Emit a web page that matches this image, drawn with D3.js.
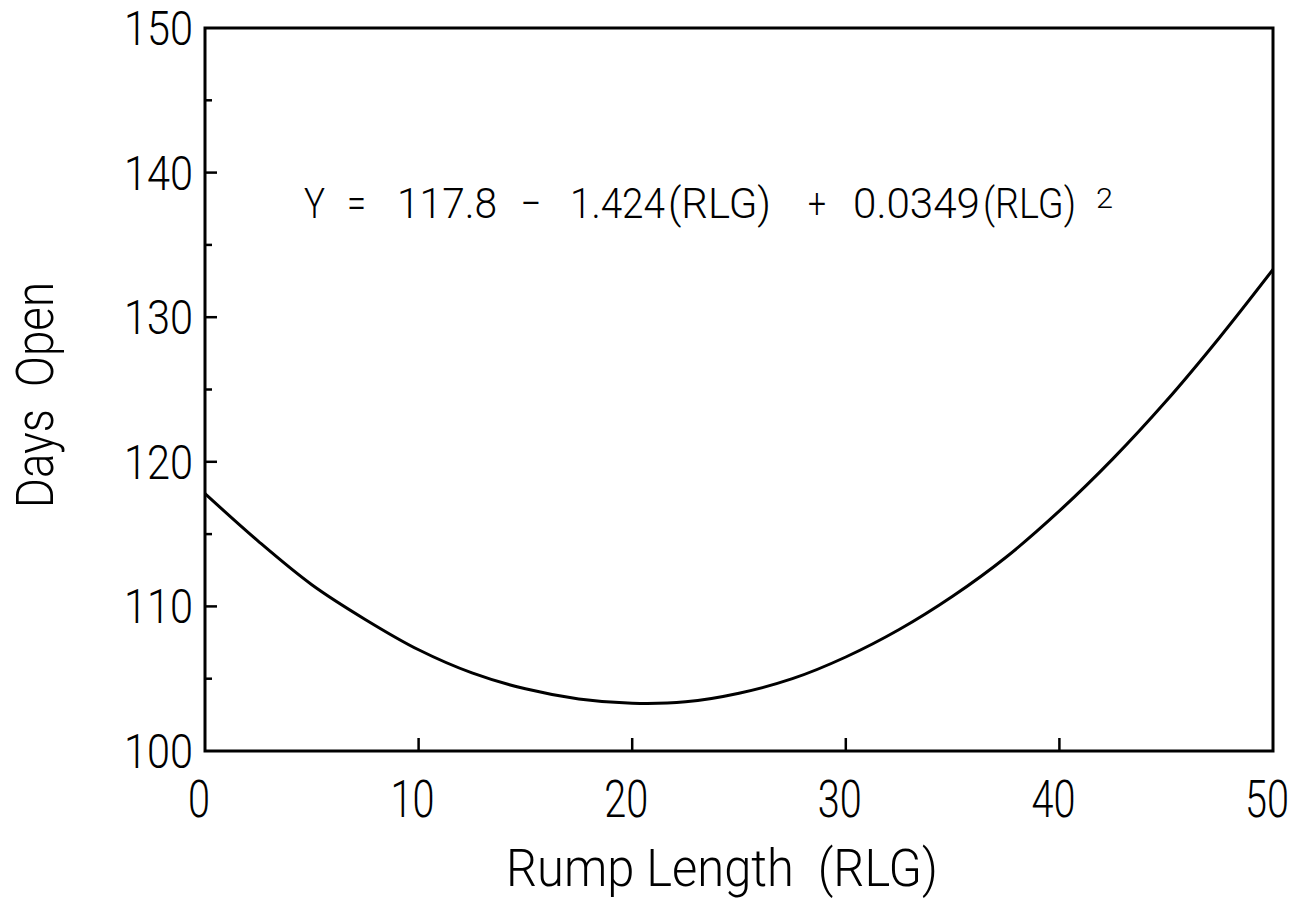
<!DOCTYPE html>
<html>
<head>
<meta charset="utf-8">
<script src="https://cdn.jsdelivr.net/npm/d3@7"></script>
<style>
  body { margin: 0; background: #fff; }
  svg text { font-family: Roboto, "DejaVu Sans Condensed", sans-serif; font-weight: 300; fill: #000; }
</style>
</head>
<body>
<div id="chart"></div>
<script>
// Days open vs rump length, fitted quadratic curve
const rlg = [0, 2.5, 5, 7.5, 10, 12.5, 15, 17.5, 20, 22.5, 25, 27.5, 30, 32.5, 35, 37.5, 40, 42.5, 45, 47.5, 50];
const daysOpen = [117.8, 114.5, 111.5, 109.1, 107.0, 105.4, 104.3, 103.6, 103.3, 103.4, 104.0, 105.0, 106.5, 108.4, 110.7, 113.4, 116.6, 120.2, 124.2, 128.6, 133.3];
const xTicks = [0, 10, 20, 30, 40, 50];
const yTicks = [100, 110, 120, 130, 140, 150];
const yMinorTicks = [105, 115, 125, 135, 145];

const width = 1295, height = 900;
const margin = { top: 28, right: 22, bottom: 149, left: 205 };

const svg = d3.select('#chart').append('svg')
    .attr('width', width)
    .attr('height', height);

const x = d3.scaleLinear().domain([0, 50]).range([margin.left, width - margin.right]);
const y = d3.scaleLinear().domain([100, 150]).range([height - margin.bottom, margin.top]);

// Frame
svg.append('rect')
    .attr('x', x(0))
    .attr('y', y(150))
    .attr('width', x(50) - x(0))
    .attr('height', y(100) - y(150))
    .attr('fill', 'none')
    .attr('stroke', '#000')
    .attr('stroke-width', 3);

// Y axis: inward ticks, labels on the left
const yAxis = svg.append('g').attr('transform', `translate(${x(0)},0)`);
yAxis.selectAll('.major')
    .data(yTicks.slice(1, -1))
    .enter().append('line')
    .attr('x1', 0).attr('x2', 12)
    .attr('y1', d => y(d)).attr('y2', d => y(d))
    .attr('stroke', '#000').attr('stroke-width', 2.5);
yAxis.selectAll('.minor')
    .data(yMinorTicks)
    .enter().append('line')
    .attr('x1', 0).attr('x2', 7)
    .attr('y1', d => y(d)).attr('y2', d => y(d))
    .attr('stroke', '#000').attr('stroke-width', 2.5);
yAxis.selectAll('text')
    .data(yTicks)
    .enter().append('text')
    .attr('x', -12)
    .attr('y', d => y(d) + 17)
    .attr('text-anchor', 'end')
    .attr('font-size', 49)
    .attr('textLength', d => String(d).length * 23)
    .attr('lengthAdjust', 'spacingAndGlyphs')
    .text(d => d);

// X axis: inward ticks, labels below
const xAxis = svg.append('g').attr('transform', `translate(0,${y(100)})`);
xAxis.selectAll('line')
    .data(xTicks.slice(1, -1))
    .enter().append('line')
    .attr('x1', d => x(d)).attr('x2', d => x(d))
    .attr('y1', 0).attr('y2', -13)
    .attr('stroke', '#000').attr('stroke-width', 2.5);
xAxis.selectAll('text')
    .data(xTicks)
    .enter().append('text')
    .attr('x', d => x(d) - 6)
    .attr('y', 66)
    .attr('text-anchor', 'middle')
    .attr('font-size', 51)
    .attr('textLength', d => String(d).length * 22)
    .attr('lengthAdjust', 'spacingAndGlyphs')
    .text(d => d);

// Axis titles
svg.append('text')
    .attr('x', 506)
    .attr('y', 886)
    .attr('font-size', 51)
    .attr('textLength', 432)
    .attr('lengthAdjust', 'spacingAndGlyphs')
    .text('Rump Length  (RLG)')
    .style('white-space', 'pre');

svg.append('text')
    .attr('transform', 'translate(53,395) rotate(-90)')
    .attr('text-anchor', 'middle')
    .attr('font-size', 51)
    .attr('textLength', 226)
    .attr('lengthAdjust', 'spacingAndGlyphs')
    .style('white-space', 'pre')
    .text('Days  Open');

// Curve
const line = d3.line()
    .x((d, i) => x(rlg[i]))
    .y(d => y(d))
    .curve(d3.curveCatmullRom);

svg.append('path')
    .datum(daysOpen)
    .attr('fill', 'none')
    .attr('stroke', '#000')
    .attr('stroke-width', 3)
    .attr('d', line);

// Equation annotation
const eqParts = [
    { t: 'Y', x: 304, w: 21 },
    { t: '=', x: 347, w: 19 },
    { t: '117.8', x: 397, w: 100 },
    { t: '–', x: 521, w: 20 },
    { t: '1.424', x: 570, w: 95 },
    { t: '(RLG)', x: 668, w: 103 },
    { t: '+', x: 808, w: 18 },
    { t: '0.0349', x: 853, w: 127 },
    { t: '(RLG)', x: 983, w: 93 }
];
const eq = svg.append('text').attr('y', 218).attr('font-size', 43).attr('font-weight', 400);
eq.selectAll('tspan')
    .data(eqParts)
    .enter().append('tspan')
    .attr('x', d => d.x)
    .attr('textLength', d => d.w)
    .attr('lengthAdjust', 'spacingAndGlyphs')
    .text(d => d.t);

svg.append('text')
    .attr('x', 1096)
    .attr('y', 208)
    .attr('font-size', 28)
    .attr('font-weight', 400)
    .attr('textLength', 17)
    .attr('lengthAdjust', 'spacingAndGlyphs')
    .text('2');
</script>
</body>
</html>
